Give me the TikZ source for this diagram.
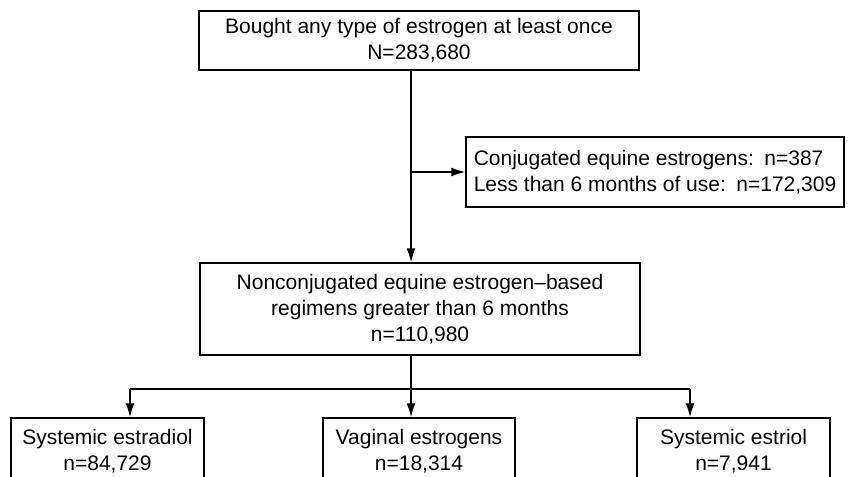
\documentclass[tikz,border=0pt]{standalone}
\usepackage{fontspec}
\setmainfont{Liberation Sans}
\usetikzlibrary{arrows.meta, positioning}
\tikzset{
    flowBox/.style={rectangle, draw=black, line width=0.7pt, align=center, inner sep=0pt, font=\fontsize{10.5}{12.8}\selectfont},
    flowLine/.style={->, thick}
}

\begin{document}
\begin{tikzpicture}[x=0.5pt, y=-0.5pt, >={Latex[length=7pt, width=4.5pt]}]
    \useasboundingbox (0,0) rectangle (854,476);
    % --- Boxes ---
    \node[flowBox, minimum width=220pt, minimum height=29.5pt] (bought) at (419,40.5)
        {Bought any type of estrogen at least once\\N=283,680};
    \node[flowBox, align=left, minimum width=189pt, minimum height=35pt] (excluded) at (655,172)
        {Conjugated equine estrogens:\enspace n=387\\Less than 6 months of use:\enspace n=172,309};
    \node[flowBox, minimum width=220pt, minimum height=46pt, font=\fontsize{10.5}{13}\selectfont] (regimens) at (420,309)
        {Nonconjugated equine estrogen--based\\regimens greater than 6 months\\n=110,980};
    % --- Bottom row ---
    \node[flowBox, minimum width=96.5pt, minimum height=33pt] (estradiol) at (107.5,451)
        {Systemic estradiol\\n=84,729};
    \node[flowBox, minimum width=96pt, minimum height=33pt] (vaginal) at (419,451)
        {Vaginal estrogens\\n=18,314};
    \node[flowBox, minimum width=96.5pt, minimum height=33pt] (estriol) at (733.5,451)
        {Systemic estriol\\n=7,941};
    % --- Connectors ---
    \coordinate (spine) at (411,0);
    \coordinate (busL) at (130,389); \coordinate (busR) at (690,389);
    \draw[flowLine] (bought.south -| spine) -- (regimens.north -| spine);
    \draw[flowLine] (spine |- excluded.west) -- (excluded.west);
    \draw[thick] (regimens.south -| spine) -- (spine |- busL);
    \draw[thick] (busL) -- (busR);
    \draw[flowLine] (busL) -- (estradiol.north -| busL);
    \draw[flowLine] (spine |- busL) -- (vaginal.north -| spine);
    \draw[flowLine] (busR) -- (estriol.north -| busR);
\end{tikzpicture}
\end{document}
